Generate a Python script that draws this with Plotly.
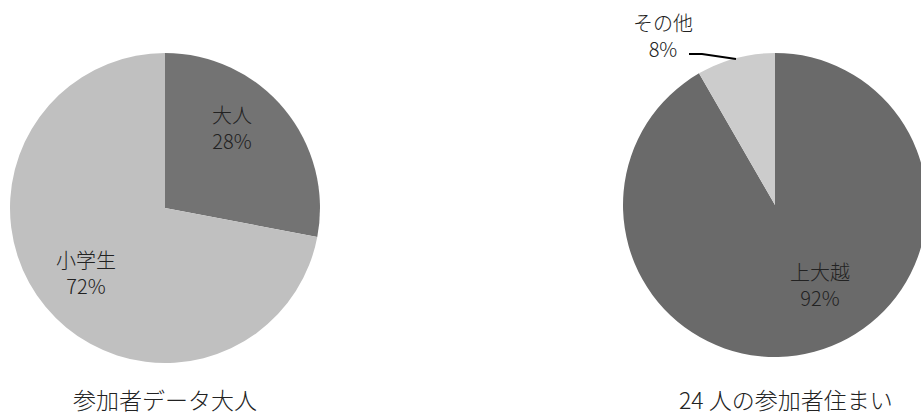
import plotly.graph_objects as go

# Data
left_labels = ["大人", "小学生"]
left_values = [28, 72]
left_colors = ["#737373", "#c0c0c0"]
left_title = "参加者データ大人"

right_labels = ["上大越", "その他"]
right_values = [22, 2]
right_colors = ["#6a6a6a", "#cccccc"]
right_title = "24 人の参加者住まい"

W, H = 930, 417
FONT = "Noto Sans CJK JP"
LBL = dict(family=FONT, size=20, color="#222222", weight=300)
TTL = dict(family=FONT, size=23, color="#222222", weight=300)

# label block centres (layout, px from top-left)
left_label_pos = [(232, 127), (86, 272)]
right_label_pos = [(820, 284), (663, 35)]

fig = go.Figure()

fig.add_trace(go.Pie(
    labels=left_labels, values=left_values, sort=False, direction="clockwise",
    rotation=0, marker=dict(colors=left_colors, line=dict(width=0)),
    textinfo="none",
    domain=dict(x=[10 / W, 320 / W], y=[(209 - 155) / H, (209 + 155) / H]),
    showlegend=False, hoverinfo="label+percent",
))

fig.add_trace(go.Pie(
    labels=right_labels, values=right_values, sort=False, direction="clockwise",
    rotation=0, marker=dict(colors=right_colors, line=dict(width=0)),
    textinfo="none",
    domain=dict(x=[623 / W, 927 / W], y=[(212 - 152) / H, (212 + 152) / H]),
    showlegend=False, hoverinfo="label+percent",
))


def pct_list(vals):
    s = sum(vals)
    return [round(100 * v / s) for v in vals]


annotations = []
for labels, values, positions in [(left_labels, left_values, left_label_pos),
                                  (right_labels, right_values, right_label_pos)]:
    for lab, p, (px, py) in zip(labels, pct_list(values), positions):
        annotations.append(dict(text=f"{lab}<br>{p}%", x=px / W, y=1 - py / H,
                                xref="paper", yref="paper", xanchor="center", yanchor="middle",
                                showarrow=False, font=LBL))

annotations += [
    dict(text=left_title, x=165 / W, y=1 - 399 / H, xref="paper", yref="paper",
         xanchor="center", yanchor="middle", showarrow=False, font=TTL),
    dict(text=right_title, x=786 / W, y=1 - 399 / H, xref="paper", yref="paper",
         xanchor="center", yanchor="middle", showarrow=False, font=TTL),
]

fig.update_layout(
    width=W, height=H, margin=dict(l=0, r=0, t=0, b=0),
    paper_bgcolor="white", plot_bgcolor="white",
    annotations=annotations,
    shapes=[dict(type="path", xref="paper", yref="paper",
                 path=f"M {689 / W},{1 - 54 / H} L {702 / W},{1 - 54 / H} L {736 / W},{1 - 59 / H}",
                 line=dict(color="black", width=2))],
)

fig.write_html("out.html", config={"displayModeBar": False},
               post_script="document.body.style.overflow='hidden';document.documentElement.style.overflow='hidden';")
